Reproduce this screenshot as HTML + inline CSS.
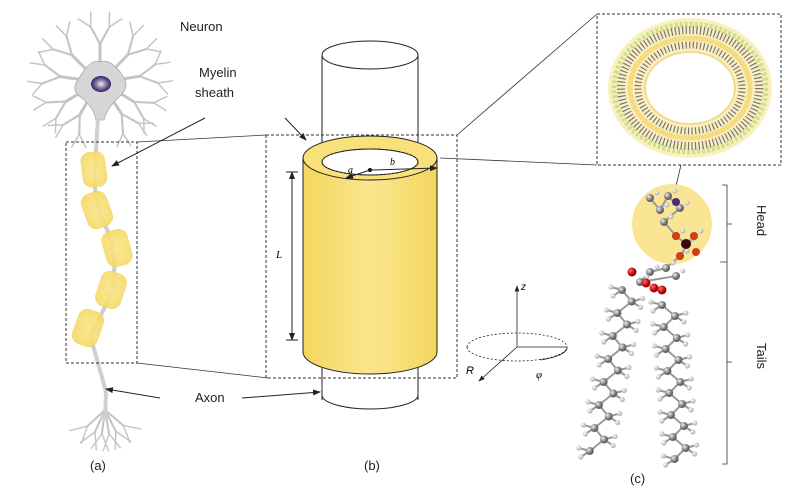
<!DOCTYPE html>
<html><head><meta charset="utf-8"><style>
html,body{margin:0;padding:0;background:#fff;}
svg{display:block;font-family:"Liberation Sans",sans-serif;}
</style></head><body>
<svg id="s" width="800" height="503" viewBox="0 0 800 503" xmlns="http://www.w3.org/2000/svg">
<defs>
<radialGradient id="yg" cx="50%" cy="50%" r="50%"><stop offset="0" stop-color="#fbe58a"/><stop offset="1" stop-color="#f6dc6a"/></radialGradient>
<linearGradient id="cyl" x1="0" x2="1"><stop offset="0" stop-color="#f3d65e"/><stop offset="0.5" stop-color="#fbe68f"/><stop offset="1" stop-color="#f3d65e"/></linearGradient>
<radialGradient id="nuc"><stop offset="0" stop-color="#f5efe0"/><stop offset="0.5" stop-color="#8a7aa8"/><stop offset="1" stop-color="#2a1f66"/></radialGradient>
<radialGradient id="atom" cx="35%" cy="35%"><stop offset="0" stop-color="#eee"/><stop offset="1" stop-color="#666"/></radialGradient>
<radialGradient id="hatom" cx="35%" cy="35%"><stop offset="0" stop-color="#fff"/><stop offset="1" stop-color="#bbb"/></radialGradient>
<radialGradient id="oatom" cx="35%" cy="35%"><stop offset="0" stop-color="#f66"/><stop offset="1" stop-color="#a00"/></radialGradient>
<marker id="ar" markerWidth="8" markerHeight="8" refX="7" refY="4" orient="auto"><path d="M0,1 L8,4 L0,7z" fill="#222"/></marker>
<marker id="ar2" markerWidth="8" markerHeight="8" refX="1" refY="4" orient="auto"><path d="M8,1 L0,4 L8,7z" fill="#222"/></marker>
</defs>
<g id="dend" stroke="#c4c4c4" fill="none" stroke-linecap="round"></g>
<path d="M78,80 Q90,58 100,62 Q112,58 124,78 Q130,88 118,98 Q106,110 104,120 L96,120 Q94,108 82,98 Q70,90 78,80z" fill="#d6d6d6" stroke="#aaa" stroke-width="0.8"/>
<ellipse cx="101" cy="84" rx="10" ry="8" fill="url(#nuc)"/>
<path d="M98,118 L96,150 Q92,190 100,215 Q120,250 112,290 Q100,320 90,335 Q100,370 106,392 L105,420" stroke="#cfcfcf" stroke-width="4" fill="none"/>
<g fill="url(#yg)" opacity="0.9" stroke="#f0d060" stroke-width="0.6">
<rect x="82" y="152" width="24" height="35" rx="9" transform="rotate(-8 94 170)"/>
<rect x="84" y="192" width="26" height="36" rx="9" transform="rotate(-20 97 210)"/>
<rect x="104" y="230" width="26" height="36" rx="9" transform="rotate(-15 117 248)"/>
<rect x="98" y="272" width="26" height="36" rx="9" transform="rotate(18 111 290)"/>
<rect x="75" y="310" width="26" height="36" rx="9" transform="rotate(20 88 328)"/>
</g>
<rect x="66" y="142" width="71" height="221" fill="none" stroke="#333" stroke-dasharray="3,2" stroke-width="1"/>
<g stroke="#333" stroke-width="0.8" fill="none">
<line x1="137" y1="142" x2="266" y2="135"/>
<line x1="137" y1="363" x2="268" y2="378"/>
<line x1="457" y1="135" x2="597" y2="14"/>
<line x1="440" y1="158" x2="597" y2="165"/>
<line x1="681" y1="165" x2="676" y2="186"/>
</g>
<g stroke="#222" stroke-width="1" fill="none">
<path d="M322,55 L322,400 M418,55 L418,400"/>
<ellipse cx="370" cy="55" rx="48" ry="14" fill="#fff"/>
<path d="M322,395 A48,14 0 0 0 418,395"/>
<path d="M303,158 L303,352 A67,22 0 0 0 437,352 L437,158z" fill="url(#cyl)"/>
<ellipse cx="370" cy="158" rx="67" ry="22" fill="#f8e07a"/>
<ellipse cx="370" cy="162" rx="48" ry="13" fill="#fff"/>
<ellipse cx="370" cy="162" rx="48" ry="13" stroke-dasharray="2,2"/>
<line x1="370" y1="170" x2="346" y2="178" marker-end="url(#ar)"/>
<line x1="372" y1="170" x2="437" y2="168" marker-end="url(#ar)"/>
<line x1="292" y1="172" x2="292" y2="340" marker-start="url(#ar2)" marker-end="url(#ar)"/>
<line x1="286" y1="172" x2="298" y2="172"/><line x1="286" y1="340" x2="298" y2="340"/>
<line x1="285" y1="118" x2="306" y2="140" marker-end="url(#ar)"/>
<line x1="205" y1="118" x2="112" y2="166" marker-end="url(#ar)"/>
<line x1="160" y1="398" x2="106" y2="389" marker-end="url(#ar)"/>
<line x1="242" y1="398" x2="320" y2="392" marker-end="url(#ar)"/>
</g>
<circle cx="370" cy="170" r="2" fill="#111"/>
<rect x="266" y="135" width="191" height="243" fill="none" stroke="#333" stroke-dasharray="3,2"/>
<text x="348" y="173" font-size="10" font-style="italic" font-family="Liberation Serif">a</text>
<text x="390" y="165" font-size="10" font-style="italic" font-family="Liberation Serif">b</text>
<text x="276" y="258" font-size="11" font-style="italic" font-family="Liberation Serif">L</text>
<g stroke="#222" stroke-width="0.8" fill="none">
<line x1="517" y1="347" x2="517" y2="286" marker-end="url(#ar)"/>
<line x1="517" y1="347" x2="479" y2="381" marker-end="url(#ar)"/>
<path d="M517,347 L567,347" />
<path d="M467,347 A50,14 0 0 1 567,347" stroke-dasharray="2,2"/>
<path d="M467,347 A50,14 0 0 0 567,347" stroke-dasharray="2,2"/>
<path d="M540,360 A50,14 0 0 0 567,347" />
</g>
<text x="521" y="290" font-size="10" font-style="italic">z</text>
<text x="466" y="374" font-size="11" font-style="italic">R</text>
<text x="536" y="378" font-size="11" font-style="italic" font-family="Liberation Serif">φ</text>
<g font-size="13" fill="#222">
<text x="180" y="31">Neuron</text>
<text x="199" y="77">Myelin</text>
<text x="195" y="97">sheath</text>
<text x="195" y="402">Axon</text>
<text x="90" y="470">(a)</text>
<text x="364" y="470">(b)</text>
<text x="630" y="483">(c)</text>
<text transform="translate(757,205) rotate(90)">Head</text>
<text transform="translate(757,343) rotate(90)">Tails</text>
</g>
<rect x="597" y="14" width="184" height="151" fill="none" stroke="#333" stroke-dasharray="3,2"/>
<ellipse cx="690" cy="88" rx="82" ry="70" fill="#fbefc0"/>
<ellipse cx="690" cy="88" rx="76" ry="64" fill="none" stroke="#cfe08a" stroke-width="5" stroke-dasharray="3,2"/>
<ellipse cx="690" cy="88" rx="69" ry="58" fill="none" stroke="#777" stroke-width="8" stroke-dasharray="1.2,2.4"/>
<ellipse cx="690" cy="88" rx="60" ry="50" fill="none" stroke="#f6dc80" stroke-width="5"/>
<ellipse cx="690" cy="88" rx="52" ry="43" fill="none" stroke="#777" stroke-width="7" stroke-dasharray="1.2,2.4"/>
<ellipse cx="690" cy="88" rx="45" ry="36" fill="#fff" stroke="#f0dc90" stroke-width="2"/>
<path d="M722,185 L727,185 L727,464 L722,464 M727,224 L732,224 M727,262 L720,262 M727,362 L732,362" stroke="#333" fill="none" stroke-width="0.8"/>
<circle cx="672" cy="224" r="40" fill="#f9e28a" opacity="0.9"/>
<g id="mol"></g>
</svg>
<script>
var NS="http://www.w3.org/2000/svg";
function el(p,t,a){var e=document.createElementNS(NS,t);for(var k in a)e.setAttribute(k,a[k]);p.appendChild(e);return e;}
var d=document.getElementById('dend');
function branch(x,y,ang,len,w,depth){
 var x2=x+Math.cos(ang)*len,y2=y+Math.sin(ang)*len;
 el(d,'line',{x1:x,y1:y,x2:x2,y2:y2,'stroke-width':w});
 if(depth>0){branch(x2,y2,ang-0.5,len*0.75,w*0.7,depth-1);branch(x2,y2,ang+0.5,len*0.75,w*0.7,depth-1);}
}
var angs=[-1.57,-2.35,-0.8,-3.0,-0.15,2.6,0.55,2.1,1.0];
angs.forEach(function(a){branch(100+Math.cos(a)*14,82+Math.sin(a)*12,a,26,3,2);});
[2.4,2.0,1.7,1.4,1.1,0.7].forEach(function(a){branch(105,410,a,24,2,1);});
var m=document.getElementById('mol');
function atom(x,y,r,f){el(m,'circle',{cx:x,cy:y,r:r,fill:f});}
function bond(a,b){el(m,'line',{x1:a[0],y1:a[1],x2:b[0],y2:b[1],stroke:'#999','stroke-width':2});}
function chain(x0,y0,dx,dy,n){
 var pts=[];for(var i=0;i<n;i++){pts.push([x0+dx*i+(i%2?6:-6),y0+dy*i]);}
 for(var i=1;i<n;i++)bond(pts[i-1],pts[i]);
 pts.forEach(function(p,i){var s=i%2?1:-1;bond(p,[p[0]+s*11,p[1]-3]);bond(p,[p[0]+s*9,p[1]+6]);
  atom(p[0]+s*11,p[1]-3,2.6,'url(#hatom)');atom(p[0]+s*9,p[1]+6,2.6,'url(#hatom)');});
 pts.forEach(function(p){atom(p[0],p[1],4,'url(#atom)');});
}
chain(628,290,-2.3,11.5,15);
chain(668,305,0.9,11,15);
var hp=[[650,198],[660,210],[668,196],[680,208],[664,222],[676,236],[686,244],[694,236],[680,256],[666,268],[650,272],[640,282],[676,276]];
for(var i=1;i<hp.length;i++)bond(hp[i-1],hp[i]);
hp.forEach(function(p,i){atom(p[0]+7,p[1]-5,2.5,'url(#hatom)');atom(p[0],p[1],4,'url(#atom)');});
atom(676,202,4,'#4b2a7a');
atom(686,244,5,'#3a0a0a');
[[676,236],[694,236],[696,252],[680,256]].forEach(function(p){atom(p[0],p[1],4,'#d04010');});
[[632,272],[646,283],[654,288],[662,290]].forEach(function(p){atom(p[0],p[1],4.5,'url(#oatom)');});
</script>
</body></html>
